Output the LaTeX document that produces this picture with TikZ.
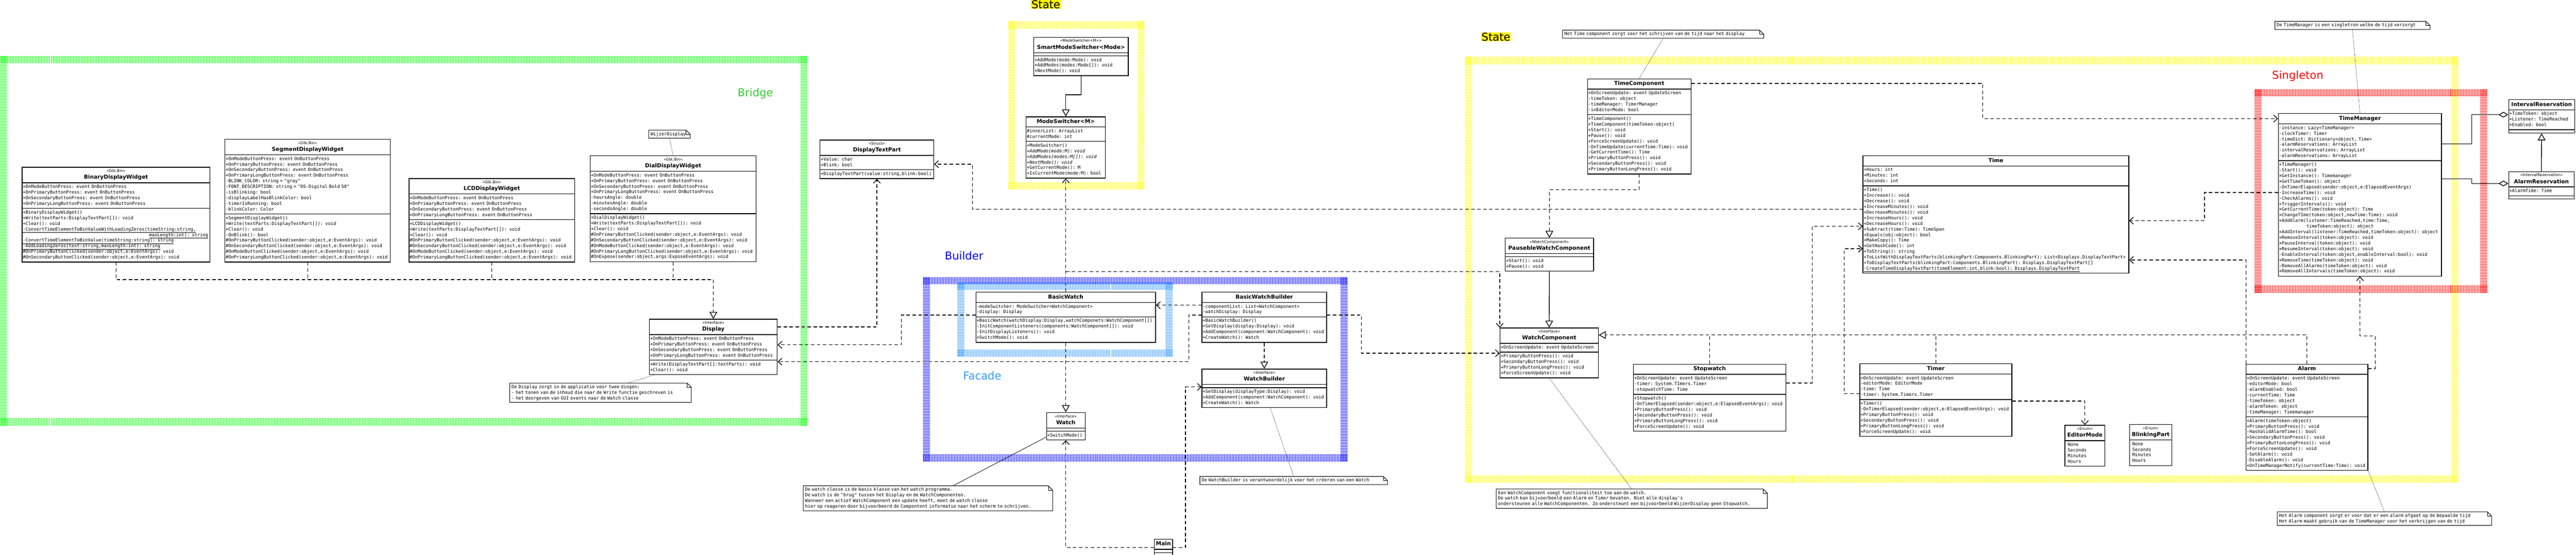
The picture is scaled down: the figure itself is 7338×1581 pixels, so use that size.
\documentclass[tikz,border=0pt]{standalone}
\usepackage{fontspec}
\setmainfont{DejaVu Sans}
\setmonofont{DejaVu Sans Mono}
\usetikzlibrary{positioning}
\usetikzlibrary{arrows.meta}
\usetikzlibrary{shapes.multipart}
\usetikzlibrary{patterns.meta}
\usetikzlibrary{calc}

\definecolor{hatchgreen}{RGB}{0,255,0}
\definecolor{bridgegreen}{RGB}{51,204,51}
\definecolor{facadeblue}{RGB}{51,153,255}

\newcommand\mfont{\ttfamily\fontsize{12.8}{16}\selectfont\parindent=0pt}
\newcommand\stfont{\rmfamily\mdseries\fontsize{11}{14}\selectfont}
\newcommand\nmfont{\rmfamily\bfseries\fontsize{15.5}{20}\selectfont}
\newcommand\lblfont{\rmfamily\fontsize{31}{36}\selectfont}
\newcommand\mline[1]{\noindent\mbox{\strut#1}\par}
\newcommand\clshead[2]{\centering\mbox{\stfont\strut#1}\par\mbox{\nmfont\strut#2}\par}
\newcommand\clsname[1]{\centering\mbox{\nmfont\strut#1}\par}
\newcommand\btnevents{\mline{+OnModeButtonPress: event OnButtonPress}\mline{+OnPrimaryButtonPress: event OnButtonPress}\mline{+OnSecondaryButtonPress: event OnButtonPress}\mline{+OnPrimaryLongButtonPress: event OnButtonPress}}
\newcommand\btnclicks{\mline{\#OnPrimaryButtonClicked(sender:object,e:EventArgs): void}\mline{\#OnSecondaryButtonClicked(sender:object,e:EventArgs): void}\mline{\#OnModeButtonClicked(sender:object,e:EventArgs): void}\mline{\#OnPrimaryLongButtonClicked(sender:object,e:EventArgs): void}}
\newcommand\btnpresses{\mline{+PrimaryButtonPress(): void}\mline{+SecondaryButtonPress(): void}\mline{+PrimaryButtonLongPress(): void}\mline{+ForceScreenUpdate(): void}}
\newcommand\hatchframe[5]{%
  \fill[pattern={Lines[angle=90,distance=4pt,line width=2pt]},pattern color=#5] (#1,#2) rectangle (#3,#2+20);
  \fill[pattern={Lines[angle=90,distance=4pt,line width=2pt]},pattern color=#5] (#1,#4-20) rectangle (#3,#4);
  \fill[pattern={Lines[angle=0,distance=4pt,line width=2pt]},pattern color=#5] (#1,#2) rectangle (#1+20,#4);
  \fill[pattern={Lines[angle=0,distance=4pt,line width=2pt]},pattern color=#5] (#3-20,#2) rectangle (#3,#4);}
\newcommand\notefold[1]{%
  \draw[line width=1.5pt] (#1.south west) -- (#1.north west) -- ([xshift=-12pt]#1.north east) -- ([yshift=-12pt]#1.north east) -- (#1.south east) -- cycle;
  \draw[line width=1pt] ([xshift=-12pt]#1.north east) |- ([yshift=-12pt]#1.north east);}

\begin{document}
\begin{tikzpicture}[x=1pt,y=-1pt,
    cls/.style={rectangle split, rectangle split parts=3, draw, line width=2pt, fill=white, inner xsep=2pt, inner ysep=3.5pt, anchor=north west, font=\mfont},
    enm/.style={cls, rectangle split parts=2},
    notebox/.style={anchor=north west, inner xsep=5pt, inner ysep=5pt, align=left, font=\mfont, text width=#1},
    lbl/.style={anchor=north west, inner sep=1pt, font=\lblfont},
    dashline/.style={line width=2pt, dash pattern=on 10pt off 7pt},
    dep/.style={dashline, -{Straight Barb[length=11pt,width=20pt,line width=2pt]}},
    real/.style={dashline, -{Triangle[open,length=20pt,width=22pt,line width=2pt]}},
    gen/.style={line width=2pt, -{Triangle[open,length=20pt,width=22pt,line width=2pt]}},
    agg/.style={line width=2pt, -{Diamond[open,length=28pt,width=16pt,line width=2pt]}},
    noteline/.style={line width=1.2pt, dotted}
  ]
  \fill[white] (0,0) rectangle (7338,1581);
  \useasboundingbox (0,0) rectangle (7338,1581);

  \hatchframe{0}{160}{2300}{1213}{hatchgreen}
  \hatchframe{2872}{61}{3260}{540}{yellow}
  \hatchframe{4173}{162}{7003}{1376}{yellow}
  \hatchframe{6422}{254}{7085}{834}{red}
  \hatchframe{2629}{790}{3839}{1315}{blue}
  \hatchframe{2727}{805}{3340}{1017}{facadeblue}

  \node[lbl,fill=yellow] (stateA) at (2937,0) {State};
  \node[lbl,fill=yellow] (stateB) at (4219,92) {State};
  \node[lbl,text=red] (singleton) at (6471,200) {Singleton};
  \node[lbl,text=bridgegreen] (bridge) at (2100,250) {Bridge};
  \node[lbl,text=blue] (builder) at (2690,715) {Builder};
  \node[lbl,text=facadeblue,anchor=center] (facade) at (2798,1071) {Facade};

  % Bridge
  \node[cls,text width=531pt] (bin) at (62,476) {\clshead{<<Gtk.Bin>>}{BinaryDisplayWidget}
    \nodepart{two}\btnevents
    \nodepart{three}\mline{+BinaryDisplayWidget()}\mline{+Write(textParts:DisplayTextPart[]): void}\mline{+Clear(): void}
    \mline{\underline{-ConvertTimeElementToBinValueWithLeadingZeros(timeString:string,}}\mline{\hspace{360pt}\underline{maxLength:int): string}}
    \mline{\underline{-ConvertTimeElementToBinValue(timeString:string): string}}\mline{\underline{-AddLeadingZeros(text:string,maxLength:int): string}}
    \mline{\#OnPrimaryButtonClicked(sender:object,e:EventArgs): void}\mline{\#OnSecondaryButtonClicked(sender:object,e:EventArgs): void}};
  \node[cls,text width=467pt] (seg) at (640,396) {\clshead{<<Gtk.Bin>>}{SegmentDisplayWidget}
    \nodepart{two}\btnevents\mline{-BLINK\_COLOR: string = "gray"}\mline{-FONT\_DESCRIPTION: string = "DS-Digital Bold 50"}
    \mline{-isBlinking: bool}\mline{-displayLabelHasBlinkColor: bool}\mline{-timerIsRunning: bool}\mline{-blinkColor: Color}
    \nodepart{three}\mline{+SegmentDisplayWidget()}\mline{+Write(textParts:DisplayTextPart[]): void}\mline{+Clear(): void}\mline{-OnBlink(): bool}\btnclicks};
  \node[cls,text width=468pt] (lcd) at (1164,508) {\clshead{<<Gtk.Bin>>}{LCDDisplayWidget}
    \nodepart{two}\btnevents
    \nodepart{three}\mline{+LCDDisplayWidget()}\mline{+Write(textParts:DisplayTextPart[]): void}\mline{+Clear(): void}\btnclicks};
  \node[cls,text width=469pt] (dial) at (1680,443) {\clshead{<<Gtk.Bin>>}{DialDisplayWidget}
    \nodepart{two}\btnevents\mline{-hoursAngle: double}\mline{-minutesAngle: double}\mline{-secondsAngle: double}
    \nodepart{three}\mline{+DialDisplayWidget()}\mline{+Write(textParts:DisplayTextPart[]): void}\mline{+Clear(): void}\btnclicks
    \mline{\#OnExpose(sender:object,args:ExposeEventArgs): void}};
  \node[notebox=108pt] (wijzer) at (1848,371) {WijzerDisplay};
  \notefold{wijzer}
  \node[cls,text width=320pt] (dtp) at (2335,398) {\clshead{<<Struct>>}{DisplayTextPart}
    \nodepart{two}\mline{+Value: char}\mline{+Blink: bool}
    \nodepart{three}\mline{+DisplayTextPart(value:string,blink:bool)}};
  \node[cls,text width=360pt] (disp) at (1849,909) {\clshead{<<Interface>>}{Display}
    \nodepart{two}\btnevents
    \nodepart{three}\mline{+Write(DisplayTextPart[]:textParts): void}\mline{+Clear(): void}};
  \node[notebox=507pt] (dnote) at (1452,1092) {De Display zorgt in de applicatie voor twee dingen:\\- het tonen van de inhoud die naar de Write functie geschreven is\\- het doorgeven van GUI events naar de Watch classe};
  \notefold{dnote}

  % State
  \node[cls,text width=265pt] (sms) at (2944,105) {\clshead{<<ModeSwitcher<M>>>}{SmartModeSwitcher<Mode>}
    \nodepart{two}\relax
    \nodepart{three}\mline{+AddMode(mode:Mode): void}\mline{+AddModes(modes:Mode[]): void}\mline{+NextMode(): void}};
  \node[cls,text width=222pt] (ms) at (2922,332) {\clsname{ModeSwitcher<M>}
    \nodepart{two}\mline{\#innerList: ArrayList}\mline{\#currentMode: int}
    \nodepart{three}\mline{+ModeSwitcher()}\mline{\itshape +AddMode(mode:M): void}\mline{\itshape +AddModes(modes:M[]): void}\mline{\itshape +NextMode(): void}
    \mline{+GetCurrentMode(): M}\mline{+IsCurrentMode(mode:M): bool}};

  % Builder / Facade
  \node[cls,text width=508pt] (bw) at (2779,832) {\clsname{BasicWatch}
    \nodepart{two}\mline{-modeSwitcher: ModeSwitcher<WatchComponent>}\mline{-display: Display}
    \nodepart{three}\mline{+BasicWatch(watchDisplay:Display,watchComponets:WatchComponent[])}\mline{-InitComponentListeners(components:WatchComponent[]): void}
    \mline{-InitDisplayListeners(): void}\mline{+SwitchMode(): void}};
  \node[cls,text width=351pt] (bwb) at (3423,832) {\clsname{BasicWatchBuilder}
    \nodepart{two}\mline{-componentList: List<WatchComponent>}\mline{-watchDisplay: Display}
    \nodepart{three}\mline{+BasicWatchBuilder()}\mline{+SetDisplay(display:Display): void}\mline{+AddComponent(component:WatchComponent): void}\mline{+CreateWatch(): Watch}};
  \node[cls,text width=351pt] (wb) at (3423,1051) {\clshead{<<Interface>>}{WatchBuilder}
    \nodepart{two}\relax
    \nodepart{three}\mline{+SetDisplay(displayType:Display): void}\mline{+AddComponent(component:WatchComponent): void}\mline{+CreateWatch(): Watch}};
  \node[cls,text width=106pt] (watch) at (2980,1175) {\clshead{<<Interface>>}{Watch}
    \nodepart{two}\relax
    \nodepart{three}\mline{+SwitchMode()}};
  \node[cls,text width=48pt] (main) at (3287,1536) {\clsname{Main}\nodepart{two}\relax\nodepart{three}\relax};
  \node[notebox=700pt] (wnote) at (2288,1385) {De watch classe is de basis klasse van het watch programma.\\De watch is de "brug" tussen het Display en de WatchComponenten.\\Wanneer een actief WatchComponent een update heeft, moet de watch classe\\hier op reageren door bijvoorbeerd de Compontent informatie naar het scherm te schrijven.};
  \notefold{wnote}
  \node[notebox=524pt] (wbnote) at (3418,1358) {De WatchBuilder is verantwoordelijk voor het créeren van een Watch};
  \notefold{wbnote}

  % Components
  \node[notebox=563pt] (tcnote) at (4451,86) {Het Time component zorgt voor het schrijven van de tijd naar het display};
  \notefold{tcnote}
  \node[cls,text width=291pt] (tc) at (4521,224) {\clsname{TimeComponent}
    \nodepart{two}\mline{+OnScreenUpdate: event UpdateScreen}\mline{-timeToken: object}\mline{-timeManager: TimerManager}\mline{-inEditorMode: bool}
    \nodepart{three}\mline{+TimeComponent()}\mline{+TimeComponent(timeToken:object)}\mline{+Start(): void}\mline{+Pause(): void}\mline{+ForceScreenUpdate(): void}
    \mline{-OnTimeUpdate(currentTime:Time): void}\mline{-GetCurrentTime(): Time}\mline{+PrimaryButtonPress(): void}\mline{+SecondaryButtonPress(): void}\mline{+PrimaryButtonLongPress(): void}};
  \node[cls,text width=247pt] (pwc) at (4287,678) {\clshead{<<WatchComponent>>}{PausebleWatchComponent}
    \nodepart{two}\relax
    \nodepart{three}\mline{+Start(): void}\mline{+Pause(): void}};
  \node[cls,text width=276pt] (wc) at (4272,934) {\clshead{<<Interface>>}{WatchComponent}
    \nodepart{two}\mline{+OnScreenUpdate: event UpdateScreen}
    \nodepart{three}\btnpresses};
  \node[cls,text width=430pt] (sw) at (4652,1037) {\clsname{Stopwatch}
    \nodepart{two}\mline{+OnScreenUpdate: event UpdateScreen}\mline{-timer: System.TImers.Timer}\mline{-stopwatchTime: Time}
    \nodepart{three}\mline{+Stopwatch()}\mline{-OnTimerElapsed(sender:object,e:ElapsedEventArgs): void}\btnpresses};
  \node[cls,text width=429pt] (timer) at (5297,1036) {\clsname{Timer}
    \nodepart{two}\mline{+OnScreenUpdate: event UpdateScreen}\mline{-editorMode: EditorMode}\mline{-time: Time}\mline{-timer: System.Timers.Timer}
    \nodepart{three}\mline{+Timer()}\mline{-OnTimerElapsed(sender:object,e:ElapsedEventArgs): void}\btnpresses};
  \node[notebox=762pt] (wcnote) at (4262,1394) {Een WatchComponent voegt functionaliteit toe aan de watch.\\De watch kan bijvoorbeeld een Alarm en Timer bevaten. Niet alle display's\\ondersteunen alle WatchComponenten. Zo ondersteunt een bijvoorbeeld WijzerDisplay geen Stopwatch.};
  \notefold{wcnote}
  \node[cls,text width=753pt] (time) at (5306,443) {\clsname{Time}
    \nodepart{two}\mline{+Hours: int}\mline{+Minutes: int}\mline{+Seconds: int}
    \nodepart{three}\mline{+Time()}\mline{+Increase(): void}\mline{+Decrease(): void}\mline{+IncreaseMinutes(): void}\mline{+DecreaseMinutes(): void}
    \mline{+IncreaseHours(): void}\mline{+DecreaseHours(): void}\mline{+Subtract(time:Time): TimeSpan}\mline{+Equals(obj:object): bool}\mline{+MakeCopy(): Time}
    \mline{+GetHashCode(): int}\mline{+ToString(): string}\mline{+ToListWithDisplayTextParts(blinkingPart:Components.BlinkingPart): List<Displays.DisplayTextPart>}
    \mline{+ToDisplayTextParts(blinkingPart:Components.BlinkingPart): Displays.DisplayTextPart[]}
    \mline{\underline{-CreateTimeDisplayTextPart(timeElement:int,blink:bool): Displays.DisplayTextPart}}};
  \node[enm,text width=110pt] (edmode) at (5881,1211) {\clshead{<<Enum>>}{EditorMode}
    \nodepart{two}\mline{\hspace{6pt}None}\mline{\hspace{6pt}Seconds}\mline{\hspace{6pt}Minutes}\mline{\hspace{6pt}Hours}};
  \node[enm,text width=117pt] (blink) at (6065,1209) {\clshead{<<Enum>>}{BlinkingPart}
    \nodepart{two}\mline{\hspace{6pt}None}\mline{\hspace{6pt}Seconds}\mline{\hspace{6pt}Minutes}\mline{\hspace{6pt}Hours}};
  \node[cls,text width=343pt] (alarm) at (6397,1037) {\clsname{Alarm}
    \nodepart{two}\mline{+OnScreenUpdate: event UpdateScreen}\mline{-editorMode: bool}\mline{-alarmEnabled: bool}\mline{-currentTime: Time}
    \mline{-timeToken: object}\mline{-alarmToken: object}\mline{-timeManager: Timemanager}
    \nodepart{three}\mline{+Alarm(timeToken:object)}\mline{+PrimaryButtonPress(): void}\mline{-HasValidAlarmTime(): bool}\mline{+SecondaryButtonPress(): void}
    \mline{+PrimaryButtonLongPress(): void}\mline{+ForceScreenUpdate(): void}\mline{-SetAlarm(): void}\mline{-DisableAlarm(): void}
    \mline{+OnTimeManagerNotify(currentTime:Time): void}};
  \node[notebox=600pt] (anote) at (6487,1459) {Het Alarm component zorgt er voor dat er een alarm afgaat op de bepaalde tijd\\Het Alarm maakt gebruik van de TimeManager voor het verkrijgen van de tijd};
  \notefold{anote}

  % Singleton
  \node[notebox=432pt] (tmnote) at (6480,61) {De TimeManager is een singletron welke de tijd verzorgt};
  \notefold{tmnote}
  \node[cls,text width=461pt] (tm) at (6489,323) {\clsname{TimeManager}
    \nodepart{two}\mline{-instance: Lazy<TimeManager>}\mline{-clockTimer: Timer}\mline{-timeDict: Dictionary<object, Time>}
    \mline{-alarmReservations: ArrayList}\mline{-intervalReservations: ArrayList}\mline{-alarmReservations: ArrayList}
    \nodepart{three}\mline{+TimeManager()}\mline{-Start(): void}\mline{+GetInstance(): Timemanager}\mline{+GetTimeToken(): object}
    \mline{-OnTimerElapsed(sender:object,e:ElapsedEventArgs)}\mline{-IncreaseTime(): void}\mline{-CheckAlarms(): void}\mline{+TriggerIntervals(): void}
    \mline{+GetCurrentTime(token:object): Time}\mline{+ChangeTIme(token:object,newTime:Time): void}
    \mline{+AddAlarm(listener:TimeReached,time:Time,}\mline{\hspace{78pt}timeToken:object): object}
    \mline{+AddInterval(listener:TimeReached,timeToken:object): object}\mline{+RemoveInterval(token:object): void}\mline{+PauseInterval(token:object): void}
    \mline{+ResumeInterval(token:object): void}\mline{-EnableInterval(token:object,enableInterval:bool): void}\mline{+RemoveTime(timeToken:object): void}
    \mline{-RemoveAllAlarms(timeToken:object): void}\mline{+RemoveAllIntervals(timeToken:object): void}};
  \node[cls,text width=184pt] (ir) at (7145,283) {\clsname{IntervalReservation}
    \nodepart{two}\mline{+TimeToken: object}\mline{+Listener: TimeReached}\mline{+Enabled: bool}
    \nodepart{three}\relax};
  \node[cls,text width=183pt] (ar) at (7145,488) {\clshead{<<IntervalReservation>>}{AlarmReservation}
    \nodepart{two}\mline{+AlarmTime: Time}
    \nodepart{three}\relax};

  % connectors
  \coordinate (disptop) at (disp.north |- 0,797);
  \draw[dashline] (bin.south) |- (disptop);
  \draw[dashline] (seg.south) -- (seg.south |- disptop);
  \draw[dashline] (lcd.south) -- (lcd.south |- disptop);
  \draw[dashline] (dial.south) -- (dial.south |- disptop);
  \draw[real] (disptop) -- (disp.north);
  \draw[noteline] (wijzer.south) -- (dial.north);
  \draw[noteline] ([xshift=13pt]disp.south west) -- ([xshift=78pt]dnote.north);
  \draw[dep] (disp.east |- 0,932) -| (dtp.south);
  \draw[dep] (bw.west |- 0,898) -| (2568,983) -- (disp.east |- 0,983);
  \draw[dep] (bwb.west |- 0,898) -| (3386,1031) -- (disp.east |- 0,1031);
  \draw[dep] (time.west |- 0,597) -| (2770,468) -- (dtp.east |- 0,468);

  \draw[gen] (sms.south) -- ++(0,53) -| (ms.north);
  \draw[dep] (bw.north) -- (ms.south);
  \coordinate (bwtap) at (bw.north |- 0,774);
  \draw[dep] (bwtap) -| (wc.north west);
  \draw[dep] (bwb.west |- 0,870) -- (bw.east |- 0,870);
  \draw[dep] (bwb.east |- 0,898) -| (3878,1007) -- (wc.west |- 0,1007);
  \draw[real] (bw.south) -- (watch.north);
  \draw[real] (bwb.south) -- (wb.north);
  \draw[dep] (main.west) -| (watch.south);
  \draw[dep] (main.east) -| (3377,1103) -- (wb.west |- 0,1103);
  \draw[line width=1.2pt] ($(wnote.north west)!0.6!(wnote.north east)$) -- ([yshift=9pt]watch.south west);
  \draw[noteline] ([xshift=17pt]wb.south) -- (wbnote.north);

  \draw[noteline] (tcnote.south) -- (tc.north);
  \draw[real] (tc.south) -- ++(0,44) -| (pwc.north);
  \draw[gen] (pwc.south) -- (wc.north);
  \draw[dep] (tc.east |- 0,238) -| (5648,338) -- (tm.west |- 0,338);
  \draw[real] (alarm.north) |- (wc.east |- 0,955);
  \draw[dashline] (sw.north) -- (sw.north |- 0,955);
  \draw[dashline] (timer.north) -- (timer.north |- 0,955);
  \draw[noteline] (wc.south) -- (wcnote.north);
  \draw[dep] (sw.east |- 0,1092) -| (5162,645) -- (time.west |- 0,645);
  \draw[dep] (timer.west |- 0,1122) -| (5253,709) -- (time.west |- 0,709);
  \draw[dep] (timer.east |- 0,1143) -| (edmode.north);
  \draw[dep] ([xshift=1pt]alarm.north west) |- (time.east |- 0,741);
  \draw[dep] (alarm.east |- 0,1051) -| (6766,958) -| (tm.south);
  \draw[noteline] (alarm.south east) -- (anote.north);

  \draw[noteline] (tmnote.south) -- (tm.north);
  \draw[dep] (tm.west |- 0,549) -| (6280,629) -- (time.east |- 0,629);
  \draw[agg] (tm.east |- 0,410) -| (7041,327) -- (ir.west |- 0,327);
  \draw[agg] (tm.east |- 0,510) -| (7041,523) -- (ar.west |- 0,523);
  \draw[gen] (ar.north) -- (ir.south);
\end{tikzpicture}
\end{document}
